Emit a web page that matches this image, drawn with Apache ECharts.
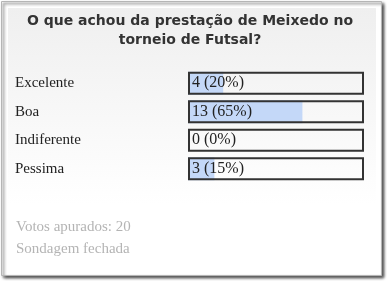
<!DOCTYPE html>
<html>
<head>
<meta charset="utf-8">
<script src="https://cdn.jsdelivr.net/npm/echarts@6/dist/echarts.min.js"></script>
<style>
  html, body { margin: 0; padding: 0; background: #fff; }
  #poll { width: 387px; height: 282px; }
</style>
</head>
<body>
<div id="poll"></div>
<script>
const question = 'O que achou da prestação de Meixedo no\ntorneio de Futsal?';
const categories = ['Excelente', 'Boa', 'Indiferente', 'Pessima'];
const votes = [4, 13, 0, 3];
const percents = [20, 65, 0, 15];
const totalVotes = 20;
const footer = ['Votos apurados: ' + totalVotes, 'Sondagem fechada'];

const chart = echarts.init(document.getElementById('poll'));

chart.setOption({
  animation: false,
  graphic: [
    {
      // photo frame with drop shadow
      type: 'rect',
      z: -10,
      shape: { x: 1.5, y: 1.5, width: 380, height: 274 },
      style: {
        fill: '#fff',
        stroke: '#b5b5b5',
        lineWidth: 1,
        shadowBlur: 3,
        shadowOffsetX: 2,
        shadowOffsetY: 2,
        shadowColor: 'rgba(0,0,0,0.75)',
      },
    },
    {
      type: 'rect',
      z: -9,
      shape: { x: 8, y: 8, width: 368, height: 262 },
      style: {
        fill: new echarts.graphic.LinearGradient(0, 0, 0, 1, [
          { offset: 0, color: '#efefef' },
          { offset: 0.75, color: '#ffffff' },
          { offset: 1, color: '#ffffff' },
        ]),
      },
    },
    {
      type: 'text',
      x: 190,
      y: 12,
      style: {
        text: question,
        font: 'bold 14px "DejaVu Sans"',
        textAlign: 'center',
        lineHeight: 19,
        fill: '#333',
      },
    },
    {
      type: 'text',
      left: 16,
      top: 216,
      style: {
        text: footer.join('\n'),
        font: '15px "Liberation Serif"',
        lineHeight: 22,
        fill: '#b4b4b4',
      },
    },
  ],
  grid: { left: 188, right: 23, top: 69, height: 114 },
  xAxis: {
    type: 'value',
    min: 0,
    max: totalVotes,
    show: false,
  },
  yAxis: {
    type: 'category',
    data: categories,
    inverse: true,
    axisLine: { show: false },
    axisTick: { show: false },
    axisLabel: {
      align: 'left',
      margin: 173,
      color: '#222',
      fontFamily: 'Liberation Serif',
      fontSize: 15,
    },
  },
  series: [
    {
      type: 'bar',
      data: votes,
      barWidth: 23,
      barGap: '-100%',
      itemStyle: { color: '#c4d8f8' },
    },
    {
      type: 'bar',
      data: categories.map(() => totalVotes),
      barWidth: 23,
      barGap: '-100%',
      itemStyle: { color: 'rgba(0,0,0,0)', borderColor: '#333', borderWidth: 2 },
      label: {
        show: true,
        position: 'insideLeft',
        distance: 4,
        fontFamily: 'Liberation Serif',
        fontSize: 16,
        color: '#222',
        formatter: (p) => votes[p.dataIndex] + ' (' + percents[p.dataIndex] + '%)',
      },
    },
  ],
});
</script>
</body>
</html>
